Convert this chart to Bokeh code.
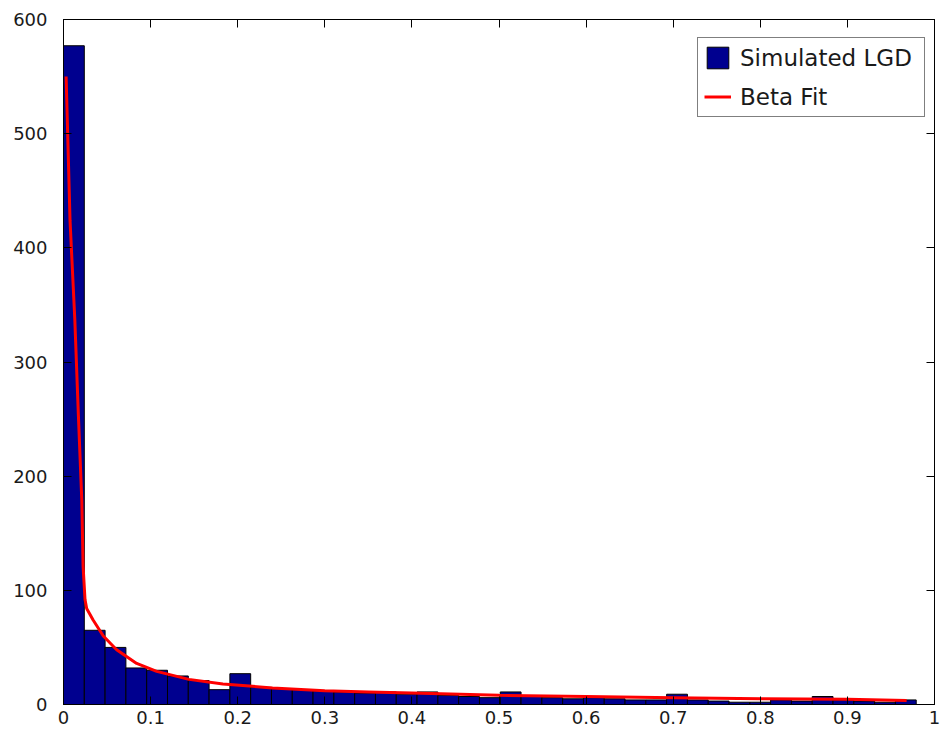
import numpy as np
from bokeh.plotting import figure
from bokeh.models import (FixedTicker, LinearAxis, CustomJSTickFormatter, Range1d)
from bokeh.embed import file_html
from bokeh.resources import INLINE

# Histogram counts of simulated loss-given-default (41 equal bins over [0, 0.979])
lgd_counts = [577, 65, 50, 32, 30, 25, 21, 13, 27, 15,
              14, 13, 12, 11, 10, 11, 9, 11, 8, 7,
              6, 11, 7, 6, 5, 6, 5, 4, 4, 9,
              4, 3, 2, 2, 4, 3, 7, 4, 3, 2, 4]
lgd_max = 0.979

# Fitted beta density (scaled to counts), sampled along x
fit_x = [0.003, 0.0075, 0.013, 0.017, 0.021, 0.0225, 0.0247, 0.0266, 0.034,
         0.0457, 0.061, 0.084, 0.107, 0.144, 0.183, 0.24, 0.3, 0.35, 0.4,
         0.5, 0.6, 0.7, 0.8, 0.9, 0.968]
fit_y = [550, 424, 337, 255, 179, 121, 92, 84, 74,
         60, 48, 36, 29, 22, 18, 14.5, 12, 11, 10,
         8, 7, 6, 5, 4.5, 3.5]

x_ticks = [0, 0.1, 0.2, 0.3, 0.4, 0.5, 0.6, 0.7, 0.8, 0.9, 1]
y_ticks = [0, 100, 200, 300, 400, 500, 600]

edges = np.linspace(0, lgd_max, len(lgd_counts) + 1)

FONT = "DejaVu Sans"
TEXT = "#1a1a1a"

p = figure(frame_width=871, frame_height=685,
           min_border_left=63, min_border_right=7,
           min_border_top=19, min_border_bottom=41,
           x_range=Range1d(0, 1), y_range=Range1d(0, 600),
           output_backend="svg", toolbar_location=None,
           background_fill_color="white", border_fill_color="white")
p.grid.visible = False
p.outline_line_color = "black"
p.outline_line_width = 1

p.quad(left=edges[:-1], right=edges[1:], top=lgd_counts, bottom=0,
       fill_color="#00008f", line_color="black", line_width=1,
       legend_label="Simulated LGD")
p.line(fit_x, fit_y, line_color="#ff0000", line_width=3,
       legend_label="Beta Fit")

fmt = CustomJSTickFormatter(code="return String(Math.round(tick*10)/10)")
blank = CustomJSTickFormatter(code="return ''")

def style_axis(ax, ticks, labels=True):
    ax.ticker = FixedTicker(ticks=ticks)
    ax.minor_tick_line_color = None
    ax.major_tick_in = 8
    ax.major_tick_out = 0
    ax.axis_line_color = "black"
    ax.major_tick_line_color = "black"
    if labels:
        ax.major_label_text_font = FONT
        ax.major_label_text_font_size = "18px"
        ax.major_label_text_color = TEXT
    else:
        ax.formatter = blank
        ax.major_label_standoff = 0

style_axis(p.xaxis[0], x_ticks)
p.xaxis[0].formatter = fmt
p.xaxis[0].major_label_standoff = 6
style_axis(p.yaxis[0], y_ticks)
p.yaxis[0].major_label_standoff = 16

# mirrored tick marks on the top and right edges of the frame
top_ax = LinearAxis()
style_axis(top_ax, x_ticks, labels=False)
p.add_layout(top_ax, "above")
right_ax = LinearAxis()
style_axis(right_ax, y_ticks, labels=False)
p.add_layout(right_ax, "right")

lg = p.legend[0]
lg.location = (634, 587)
lg.border_line_color = "black"
lg.border_line_width = 1
lg.background_fill_color = "white"
lg.background_fill_alpha = 1
lg.label_text_font = FONT
lg.label_text_font_size = "23px"
lg.label_text_color = TEXT
lg.glyph_width = 27
lg.glyph_height = 27
lg.label_height = 27
lg.label_width = 178
lg.label_standoff = 9
lg.padding = 6
lg.spacing = 12
lg.margin = 0

open("out.html", "w").write(file_html(p, INLINE))
